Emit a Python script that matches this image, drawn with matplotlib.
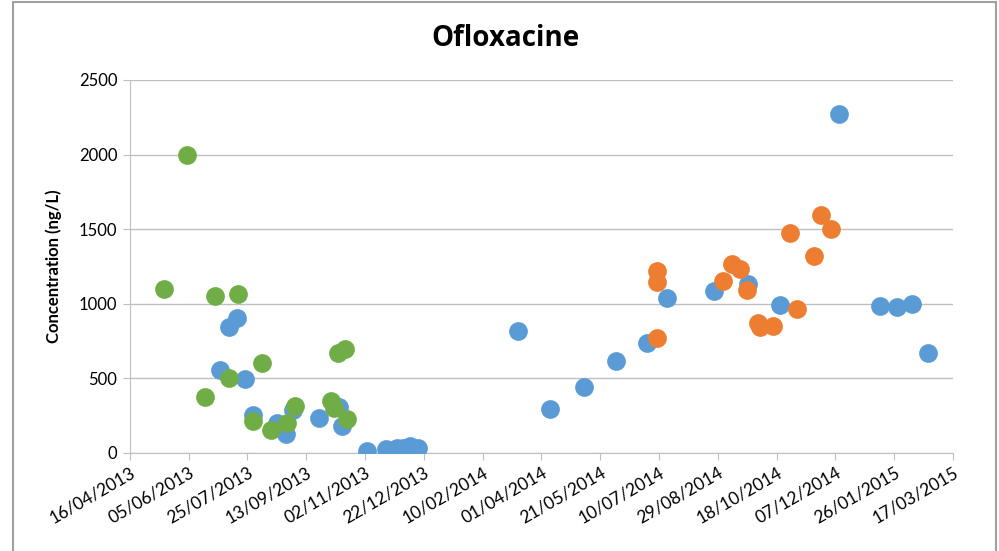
import numpy as np
import pandas as pd
import matplotlib
matplotlib.use("Agg")
import matplotlib.pyplot as plt
import matplotlib.dates as mdates
from matplotlib.patches import Rectangle

# blue series
blue_dates = ["2013-07-09", "2013-07-16", "2013-07-02", "2013-07-23", "2013-07-30",
              "2013-08-19", "2013-08-27", "2013-09-02", "2013-09-24", "2013-10-11",
              "2013-10-13", "2013-11-04", "2013-11-20", "2013-11-29", "2013-12-04",
              "2013-12-10", "2013-12-17", "2014-03-12", "2014-04-08", "2014-05-07",
              "2014-06-03", "2014-06-30", "2014-07-17", "2014-08-26", "2014-09-24",
              "2014-10-21", "2014-12-10", "2015-01-14", "2015-01-28", "2015-02-10",
              "2015-02-24"]
blue_vals = [846, 905, 556, 494, 255,
             200, 130, 285, 232, 310,
             180, 12, 25, 30, 30,
             45, 32, 820, 295, 445,
             618, 738, 1037, 1083, 1130,
             990, 2270, 985, 975, 998,
             668]

# green series
green_dates = ["2013-05-15", "2013-06-04", "2013-06-27", "2013-07-17", "2013-06-19",
               "2013-07-09", "2013-08-06", "2013-07-30", "2013-08-14", "2013-08-28",
               "2013-09-03", "2013-10-04", "2013-10-07", "2013-10-18", "2013-10-10",
               "2013-10-16"]
green_vals = [1100, 2000, 1050, 1065, 375,
              500, 600, 215, 155, 200,
              315, 350, 300, 228, 670,
              695]

# orange series
orange_dates = ["2014-07-08", "2014-07-08", "2014-07-08", "2014-09-02", "2014-09-10",
                "2014-09-17", "2014-09-23", "2014-10-02", "2014-10-04", "2014-10-15",
                "2014-10-29", "2014-11-04", "2014-11-19", "2014-11-25", "2014-12-03"]
orange_vals = [1222, 1144, 769, 1150, 1268,
               1233, 1092, 869, 842, 853,
               1472, 967, 1320, 1593, 1503]

title = "Ofloxacine"
ylabel = "Concentration (ng/L)"

plt.rcParams['font.family'] = ['Lato', 'DejaVu Sans']

fig = plt.figure(figsize=(9.99, 5.51), dpi=100)
ax = fig.add_axes([0.130, 0.178, 0.824, 0.677])

ms = 13.5
ax.plot(pd.to_datetime(blue_dates), blue_vals, 'o', color='#5B9BD5', ms=ms, mew=0, zorder=3)
ax.plot(pd.to_datetime(green_dates), green_vals, 'o', color='#70AD47', ms=ms, mew=0, zorder=4)
ax.plot(pd.to_datetime(orange_dates), orange_vals, 'o', color='#ED7D31', ms=ms, mew=0, zorder=4)

start = pd.Timestamp("2013-04-16")
ticks = [start + pd.Timedelta(days=50 * i) for i in range(15)]
ax.set_xlim(ticks[0], ticks[-1])
ax.set_xticks(ticks)
ax.xaxis.set_major_formatter(mdates.DateFormatter("%d/%m/%Y"))
plt.setp(ax.get_xticklabels(), rotation=30, ha='right', rotation_mode='anchor')

ax.set_ylim(0, 2500)
ax.set_yticks(range(0, 2501, 500))
ax.yaxis.grid(True, color='#BFBFBF', lw=1)
ax.set_axisbelow(True)

for s in ['top', 'right']:
    ax.spines[s].set_visible(False)
ax.spines['left'].set_color('#BFBFBF')
ax.spines['bottom'].set_color('#BFBFBF')
ax.tick_params(axis='x', colors='#BFBFBF', length=5, labelcolor='black', labelsize=12.5, pad=3)
ax.tick_params(axis='y', colors='#BFBFBF', length=5, labelcolor='black', labelsize=12, pad=4)

fig.text(0.506, 0.931, title, fontsize=20, fontweight='bold', family=['Open Sans', 'DejaVu Sans'],
         ha='center', va='center')
ax.set_ylabel(ylabel, fontsize=12, fontweight='bold', labelpad=12)

# outer chart frame
fig.patches.append(Rectangle((13 / 999, -0.05), 983 / 999, 1.05 - 2 / 551, transform=fig.transFigure,
                             fill=False, edgecolor='#A0A0A0', lw=1.5))

fig.savefig("out.png", dpi=100)
